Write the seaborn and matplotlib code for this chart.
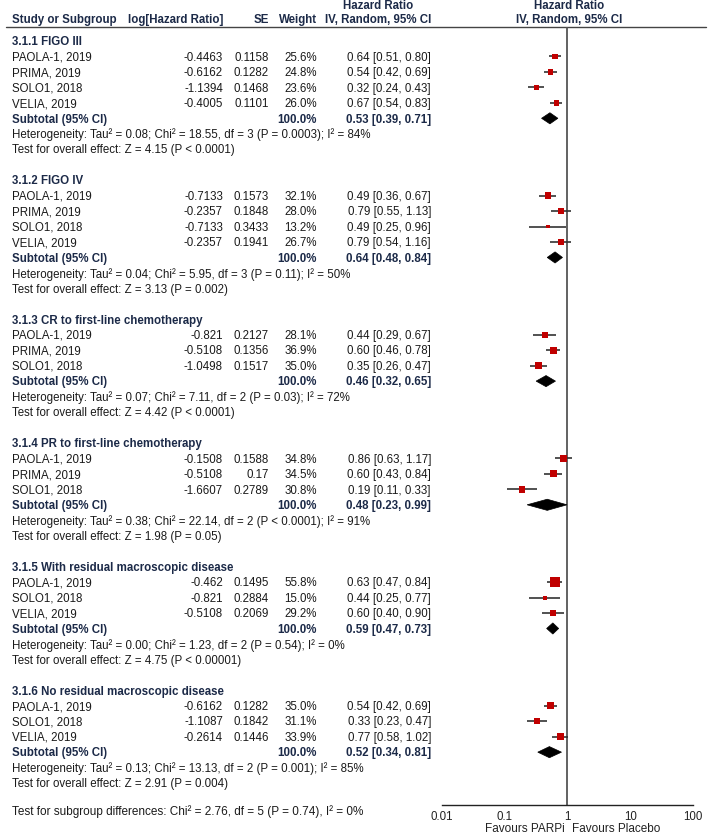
import numpy as np
import pandas as pd
import seaborn as sns
import matplotlib.pyplot as plt
from matplotlib.patches import Polygon

# Subgroups
group_names = ["3.1.1 FIGO III", "3.1.2 FIGO IV", "3.1.3 CR to first-line chemotherapy",
               "3.1.4 PR to first-line chemotherapy", "3.1.5 With residual macroscopic disease",
               "3.1.6 No residual macroscopic disease"]
group_sizes = [4, 4, 3, 3, 3, 3]

# Studies (flat, in subgroup order)
study = ["PAOLA-1, 2019", "PRIMA, 2019", "SOLO1, 2018", "VELIA, 2019",
         "PAOLA-1, 2019", "PRIMA, 2019", "SOLO1, 2018", "VELIA, 2019",
         "PAOLA-1, 2019", "PRIMA, 2019", "SOLO1, 2018",
         "PAOLA-1, 2019", "PRIMA, 2019", "SOLO1, 2018",
         "PAOLA-1, 2019", "SOLO1, 2018", "VELIA, 2019",
         "PAOLA-1, 2019", "SOLO1, 2018", "VELIA, 2019"]
log_hr = [-0.4463, -0.6162, -1.1394, -0.4005,
          -0.7133, -0.2357, -0.7133, -0.2357,
          -0.821, -0.5108, -1.0498,
          -0.1508, -0.5108, -1.6607,
          -0.462, -0.821, -0.5108,
          -0.6162, -1.1087, -0.2614]
se = [0.1158, 0.1282, 0.1468, 0.1101,
      0.1573, 0.1848, 0.3433, 0.1941,
      0.2127, 0.1356, 0.1517,
      0.1588, 0.17, 0.2789,
      0.1495, 0.2884, 0.2069,
      0.1282, 0.1842, 0.1446]
weight = [25.6, 24.8, 23.6, 26.0,
          32.1, 28.0, 13.2, 26.7,
          28.1, 36.9, 35.0,
          34.8, 34.5, 30.8,
          55.8, 15.0, 29.2,
          35.0, 31.1, 33.9]
hr = [0.64, 0.54, 0.32, 0.67,
      0.49, 0.79, 0.49, 0.79,
      0.44, 0.60, 0.35,
      0.86, 0.60, 0.19,
      0.63, 0.44, 0.60,
      0.54, 0.33, 0.77]
ci_lo = [0.51, 0.42, 0.24, 0.54,
         0.36, 0.55, 0.25, 0.54,
         0.29, 0.46, 0.26,
         0.63, 0.43, 0.11,
         0.47, 0.25, 0.40,
         0.42, 0.23, 0.58]
ci_hi = [0.80, 0.69, 0.43, 0.83,
         0.67, 1.13, 0.96, 1.16,
         0.67, 0.78, 0.47,
         1.17, 0.84, 0.33,
         0.84, 0.77, 0.90,
         0.69, 0.47, 1.02]

# Subtotals
sub_hr = [0.53, 0.64, 0.46, 0.48, 0.59, 0.52]
sub_lo = [0.39, 0.48, 0.32, 0.23, 0.47, 0.34]
sub_hi = [0.71, 0.84, 0.65, 0.99, 0.73, 0.81]
het_text = ["Tau² = 0.08; Chi² = 18.55, df = 3 (P = 0.0003); I² = 84%",
            "Tau² = 0.04; Chi² = 5.95, df = 3 (P = 0.11); I² = 50%",
            "Tau² = 0.07; Chi² = 7.11, df = 2 (P = 0.03); I² = 72%",
            "Tau² = 0.38; Chi² = 22.14, df = 2 (P < 0.0001); I² = 91%",
            "Tau² = 0.00; Chi² = 1.23, df = 2 (P = 0.54); I² = 0%",
            "Tau² = 0.13; Chi² = 13.13, df = 2 (P = 0.001); I² = 85%"]
z_text = ["Z = 4.15 (P < 0.0001)", "Z = 3.13 (P = 0.002)", "Z = 4.42 (P < 0.0001)",
          "Z = 1.98 (P = 0.05)", "Z = 4.75 (P < 0.00001)", "Z = 2.91 (P = 0.004)"]
subgroup_diff = "Test for subgroup differences: Chi² = 2.76, df = 5 (P = 0.74), I² = 0%"

x_ticks = [0.01, 0.1, 1, 10, 100]
x_tick_labels = ["0.01", "0.1", "1", "10", "100"]

sns.set_style("white")
plt.rcParams['font.family'] = ['Liberation Sans', 'DejaVu Sans']

W, H = 708, 836
ROW0, ROWH = 41, 15.46          # pixel y of first row, row height


def row(py):
    return (py - ROW0) / ROWH


fig = plt.figure(figsize=(W / 100, H / 100), dpi=100)
ax = fig.add_axes([0, 0, 1, 1])
ax.set_xlim(0, W)
ax.set_ylim(row(H), row(0))
ax.axis('off')

# forest panel, log scale, same row units
fx_left, fx_right, fx_top, fx_bot = 441.5, 693, 27, 805
fx = fig.add_axes([fx_left / W, (H - fx_bot) / H, (fx_right - fx_left) / W, (fx_bot - fx_top) / H])
fx.patch.set_alpha(0)
fx.set_xscale('log')
fx.set_xlim(0.01, 100)
fx.set_ylim(row(fx_bot), row(fx_top))
for s in ['left', 'right', 'top']:
    fx.spines[s].set_visible(False)
fx.spines['bottom'].set_color('#222222')
fx.spines['bottom'].set_linewidth(1.0)
fx.set_yticks([])
fx.set_xticks(x_ticks)
fx.set_xticklabels(x_tick_labels, fontsize=8.3, color='#222222')
fx.minorticks_off()
fx.tick_params(axis='x', direction='inout', length=7, width=1.0, color='#222222', pad=1)
fx.axvline(1, color='#555555', lw=1.3, zorder=1)

navy = '#1c2a48'
body = '#1a1a1a'
fs = 8.3
dy = 0.08   # small nudge so text sits on row centres

# header
ax.plot([6, 706], [row(27), row(27)], color='#444444', lw=1.0)
hy = row(20)
ax.text(12, hy, "Study or Subgroup", fontsize=fs, fontweight='bold', color=navy, va='center')
ax.text(223, hy, "log[Hazard Ratio]", fontsize=fs, fontweight='bold', color=navy, va='center', ha='right')
ax.text(269, hy, "SE", fontsize=fs, fontweight='bold', color=navy, va='center', ha='right')
ax.text(317, hy, "Weight", fontsize=fs, fontweight='bold', color=navy, va='center', ha='right')
for cx in [378, 569]:
    ax.text(cx, row(6), "Hazard Ratio", fontsize=fs, fontweight='bold', color=navy, va='center', ha='center')
    ax.text(cx, hy, "IV, Random, 95% CI", fontsize=fs, fontweight='bold', color=navy, va='center', ha='center')

# row layout
study_rows, sub_rows = [], []
r = 0
k = 0
for g, n in enumerate(group_sizes):
    ax.text(12, r + dy, group_names[g], fontsize=fs, fontweight='bold', color=navy, va='center')
    for i in range(n):
        y = r + 1 + i
        study_rows.append(y)
        ax.text(12, y + dy, study[k], fontsize=fs, color=body, va='center')
        ax.text(223, y + dy, str(log_hr[k]), fontsize=fs, color=body, va='center', ha='right')
        ax.text(269, y + dy, str(se[k]), fontsize=fs, color=body, va='center', ha='right')
        ax.text(317, y + dy, f"{weight[k]:.1f}%", fontsize=fs, color=body, va='center', ha='right')
        ax.text(431, y + dy, f"{hr[k]:.2f} [{ci_lo[k]:.2f}, {ci_hi[k]:.2f}]", fontsize=fs, color=body,
                va='center', ha='right')
        k += 1
    ys = r + n + 1
    sub_rows.append(ys)
    ax.text(12, ys + dy, "Subtotal (95% CI)", fontsize=fs, fontweight='bold', color=navy, va='center')
    ax.text(317, ys + dy, "100.0%", fontsize=fs, fontweight='bold', color=navy, va='center', ha='right')
    ax.text(431, ys + dy, f"{sub_hr[g]:.2f} [{sub_lo[g]:.2f}, {sub_hi[g]:.2f}]", fontsize=fs,
            fontweight='bold', color=navy, va='center', ha='right')
    ax.text(12, ys + 1 + dy, "Heterogeneity: " + het_text[g], fontsize=fs, color=body, va='center')
    ax.text(12, ys + 2 + dy, "Test for overall effect: " + z_text[g], fontsize=fs, color=body, va='center')
    r += n + 5

ax.text(12, row(812), subgroup_diff, fontsize=8.5, color=body, va='center')
ax.text(565, row(829), "Favours PARPi", fontsize=8.5, color='#222222', va='center', ha='right')
ax.text(572, row(829), "Favours Placebo", fontsize=8.5, color='#222222', va='center', ha='left')

# study markers
df = pd.DataFrame({"hr": hr, "lo": ci_lo, "hi": ci_hi, "weight": weight, "row": study_rows})
fx.hlines(df["row"], df["lo"], df["hi"], color='#333333', lw=1.2, zorder=2)
side_pt = (1.8 + 0.147 * df["weight"]) * 0.72
sns.scatterplot(data=df, x="hr", y="row", marker='s', s=side_pt ** 2, color='#c00000',
                linewidth=0, legend=False, ax=fx, zorder=3)
fx.set_xlabel("")
fx.set_ylabel("")

# subtotal diamonds
h = 0.36
for g, ys in enumerate(sub_rows):
    fx.add_patch(Polygon([(sub_lo[g], ys), (sub_hr[g], ys - h), (sub_hi[g], ys), (sub_hr[g], ys + h)],
                         closed=True, facecolor='black', edgecolor='black', lw=0.5, zorder=3))

plt.savefig("out.png", dpi=100)
